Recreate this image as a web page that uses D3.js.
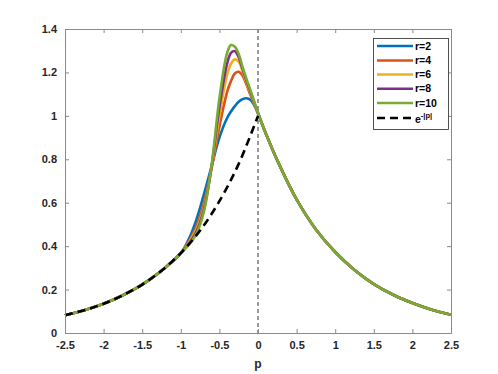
<!DOCTYPE html>
<html><head><meta charset="utf-8">
<script src="https://cdn.jsdelivr.net/npm/d3@7"></script>
<style>
body{margin:0;background:#fff;}
text{font-family:"Liberation Sans",Arial,sans-serif;}
</style></head>
<body><svg id="c" width="498" height="374"></svg>
<script>
// p grid shared by every curve
const pGrid = [-2.5,-2.25,-2,-1.75,-1.5,-1.25,-1,-0.9,-0.8,-0.7,-0.6,-0.5,-0.4,-0.35,-0.3,-0.25,-0.2,-0.15,-0.1,-0.05,0,0.05,0.1,0.25,0.5,0.75,1,1.25,1.5,1.75,2,2.25,2.5];
const leftTail = [0.082,0.105,0.135,0.174,0.223,0.287];
const rightTail = [0.965,0.92,0.795,0.615,0.477,0.373,0.29,0.225,0.176,0.138,0.107,0.084];
const r2  = [0.368,0.43,0.52,0.64,0.77,0.90,0.99,1.02,1.045,1.065,1.077,1.081,1.074,1.05,1.012];
const r4  = [0.368,0.42,0.49,0.60,0.76,0.95,1.11,1.16,1.195,1.203,1.185,1.145,1.098,1.055,1.012];
const r6  = [0.368,0.415,0.475,0.58,0.765,1.00,1.19,1.24,1.26,1.25,1.205,1.155,1.108,1.06,1.012];
const r8  = [0.368,0.41,0.465,0.57,0.77,1.04,1.24,1.29,1.298,1.27,1.215,1.163,1.114,1.064,1.012];
const r10 = [0.368,0.405,0.455,0.56,0.775,1.08,1.29,1.326,1.318,1.285,1.225,1.17,1.12,1.067,1.012];
const seriesNames = ["r=2","r=4","r=6","r=8","r=10"];
const seriesColors = ["#0072BD","#D95319","#EDB120","#7E2F8E","#77AC30"];
const expP = [-2.5,-2.25,-2,-1.75,-1.5,-1.25,-1,-0.75,-0.5,-0.25,0];
const expV = [0.082,0.105,0.135,0.174,0.223,0.287,0.368,0.472,0.607,0.779,1.0];
const xTicks = [-2.5,-2,-1.5,-1,-0.5,0,0.5,1,1.5,2,2.5];
const yTicks = [0,0.2,0.4,0.6,0.8,1,1.2,1.4];

const svg = d3.select("#c");
const L=65,R=451,T=29,B=333;
const x = d3.scaleLinear().domain([-2.5,2.5]).range([L,R]);
const y = d3.scaleLinear().domain([0,1.4]).range([B,T]);
const axisCol="#8a8a8a", txtCol="#262626";

const allSeries=[r2,r4,r6,r8,r10].map(v=>leftTail.concat(v,rightTail));
const line=d3.line().x(d=>x(d[0])).y(d=>y(d[1])).curve(d3.curveCatmullRom.alpha(0.5));

const g=svg.append("g");
// vertical line at p=0
g.append("line").attr("x1",x(0)).attr("x2",x(0)).attr("y1",T).attr("y2",B)
 .attr("stroke","#000").attr("stroke-width",0.8).attr("stroke-dasharray","4,3");

allSeries.forEach((vals,i)=>{
  g.append("path").datum(pGrid.map((p,j)=>[p,vals[j]]))
   .attr("d",line).attr("fill","none").attr("stroke",seriesColors[i]).attr("stroke-width",2.6);
});
g.append("path").datum(expP.map((p,j)=>[p,expV[j]]))
 .attr("d",line).attr("fill","none").attr("stroke","#000").attr("stroke-width",2.6)
 .attr("stroke-dasharray","8,5");

// axes box
const ax=svg.append("g");
const xb=ax.append("g").attr("transform",`translate(0,${B})`).call(d3.axisBottom(x).tickValues(xTicks).tickSize(-4).tickPadding(8).tickFormat(d=>String(d)));
const xt=ax.append("g").attr("transform",`translate(0,${T})`).call(d3.axisTop(x).tickValues(xTicks).tickSize(-4).tickFormat(""));
const yl=ax.append("g").attr("transform",`translate(${L},0)`).call(d3.axisLeft(y).tickValues(yTicks).tickSize(-4).tickPadding(8).tickFormat(d=>String(d)));
const yr=ax.append("g").attr("transform",`translate(${R},0)`).call(d3.axisRight(y).tickValues(yTicks).tickSize(-4).tickFormat(""));
[xb,xt,yl,yr].forEach(a=>{
  a.selectAll("path,line").attr("stroke",axisCol).attr("stroke-width",1);
  a.selectAll("text").attr("fill",txtCol).attr("font-size",11).attr("font-weight","bold")
   .attr("font-family","'Liberation Sans',Arial,sans-serif");
});
xb.selectAll("text").attr("dy","0.71em");

svg.append("text").attr("x",x(0)).attr("y",368).attr("text-anchor","middle")
 .attr("font-size",12).attr("font-weight","bold").attr("fill",txtCol).text("p");

// legend
const lg=svg.append("g");
lg.append("rect").attr("x",373.5).attr("y",38.5).attr("width",75).attr("height",91)
 .attr("fill","#fff").attr("stroke","#262626").attr("stroke-width",0.8);
const rowY=[46,60.5,74.5,88.8,103,118];
seriesNames.forEach((n,i)=>{
  lg.append("line").attr("x1",377).attr("x2",413).attr("y1",rowY[i]).attr("y2",rowY[i])
   .attr("stroke",seriesColors[i]).attr("stroke-width",2.6);
  lg.append("text").attr("x",415).attr("y",rowY[i]).attr("dy","0.35em")
   .attr("font-size",10.5).attr("font-weight","bold").attr("fill","#000").text(n);
});
lg.append("line").attr("x1",377).attr("x2",413).attr("y1",rowY[5]).attr("y2",rowY[5])
 .attr("stroke","#000").attr("stroke-width",2.6).attr("stroke-dasharray","8,5");
const et=lg.append("text").attr("x",415).attr("y",rowY[5]).attr("dy","0.45em")
 .attr("font-size",10.5).attr("font-weight","bold").attr("fill","#000");
et.append("tspan").text("e");
et.append("tspan").attr("dy","-0.6em").attr("font-size",7.5).text("-|p|");
</script></body></html>
